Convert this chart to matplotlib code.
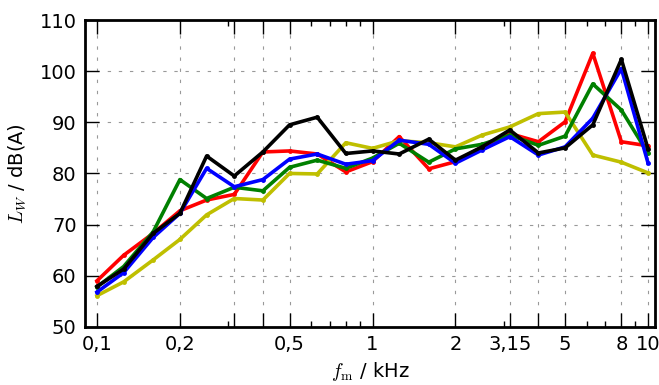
import numpy as np
import matplotlib
matplotlib.use("Agg")
import matplotlib.pyplot as plt
from matplotlib.ticker import FixedLocator, FixedFormatter, LogLocator, NullFormatter

plt.rcParams["mathtext.fontset"] = "cm"
plt.rcParams["font.family"] = "DejaVu Sans"

# Third-octave band centre frequencies in kHz
freq = [0.1, 0.125, 0.16, 0.2, 0.25, 0.315, 0.4, 0.5, 0.63, 0.8, 1,
        1.25, 1.6, 2, 2.5, 3.15, 4, 5, 6.3, 8, 10]

# Sound power levels in dB(A)
red = [59.0, 64.0, 68.3, 72.7, 74.8, 75.9, 84.2, 84.4, 83.8, 80.3, 82.3,
       87.2, 80.9, 82.3, 85.2, 87.8, 86.2, 90.1, 103.5, 86.2, 85.4]
yellow = [56.1, 58.8, 63.1, 67.1, 71.9, 75.1, 74.8, 80.0, 79.9, 86.0, 84.9,
          86.4, 86.0, 85.2, 87.5, 89.1, 91.7, 92.0, 83.6, 82.2, 80.1]
green = [57.8, 61.8, 68.6, 78.8, 75.1, 77.3, 76.6, 81.2, 82.6, 81.0, 83.0,
         85.9, 82.2, 84.8, 85.7, 87.5, 85.5, 87.3, 97.5, 92.4, 83.9]
blue = [56.8, 60.6, 67.5, 72.2, 81.0, 77.4, 78.8, 82.8, 83.8, 81.8, 82.5,
        86.5, 85.7, 82.0, 84.6, 87.2, 83.6, 85.2, 90.8, 100.5, 82.0]
black = [57.9, 61.3, 68.3, 72.2, 83.4, 79.5, 84.2, 89.5, 91.0, 83.9, 84.4,
         83.8, 86.7, 82.6, 85.2, 88.5, 84.0, 85.0, 89.5, 102.3, 84.8]

series = [(red, "#ff0000"), (yellow, "#bfbf00"), (green, "#008000"),
          (blue, "#0000ff"), (black, "#000000")]

# major ticks (with grid); only some of them carry a label
xticks = [0.1, 0.2, 0.315, 0.4, 0.5, 1, 2, 3.15, 4, 5, 8, 10]
xticklabels = ["0,1", "0,2", "", "", "0,5", "1", "2", "3,15", "", "5", "8", "10"]
yticks = [50, 60, 70, 80, 90, 100, 110]

fig = plt.figure(figsize=(6.59, 3.85), dpi=100)
ax = fig.add_axes([0.129, 0.151, 0.865, 0.797])

for vals, col in series:
    ax.plot(freq, vals, color=col, lw=2.6, marker="o", ms=3.5,
            markeredgewidth=0)

ax.set_xscale("log")
ax.set_xlim(0.0905, 10.6)
ax.set_ylim(50, 110)

ax.xaxis.set_major_locator(FixedLocator(xticks))
ax.xaxis.set_major_formatter(FixedFormatter(xticklabels))
ax.xaxis.set_minor_locator(LogLocator(base=10, subs=np.arange(1, 10), numticks=20))
ax.xaxis.set_minor_formatter(NullFormatter())
ax.set_yticks(yticks)

ax.tick_params(which="both", direction="in", top=True, right=True,
               labelsize=14, width=1, pad=6)
ax.tick_params(which="major", length=10)
ax.tick_params(which="minor", length=4)

ax.grid(True, which="major", color="#999999", ls=(0, (3, 7)), lw=0.8)

for sp in ax.spines.values():
    sp.set_linewidth(2)

ax.set_xlabel(r"$f_\mathrm{m}$ / kHz", fontsize=14, labelpad=4)
ax.set_ylabel(r"$L_W$ / dB(A)", fontsize=14, labelpad=8)

fig.savefig("out.png", dpi=100)
